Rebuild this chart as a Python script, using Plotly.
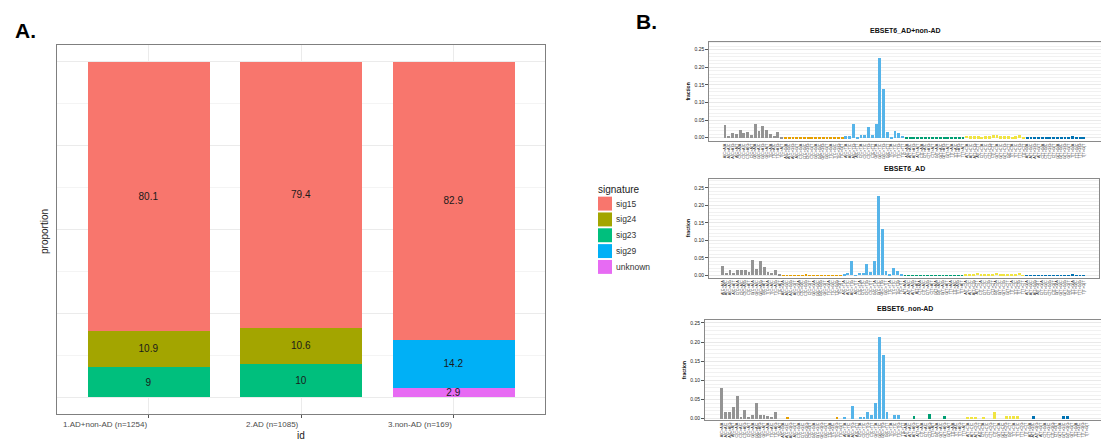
import plotly.graph_objects as go

# page body has an 8px margin; the figure fills the rest of the 1109x446 window
OFF = 8
W, H = 1109 - OFF, 446 - OFF

# ---------------- Panel A data ----------------
ids = ["1.AD+non-AD (n=1254)", "2.AD (n=1085)", "3.non-AD (n=169)"]
sig15 = [80.1, 79.4, 82.9]
sig24 = [10.9, 10.6, None]
sig23 = [9, 10, None]
sig29 = [None, None, 14.2]
unknown = [None, None, 2.9]
sig_names = ["sig15", "sig24", "sig23", "sig29", "unknown"]
sig_colors = ["#F8766D", "#A3A500", "#00BF7D", "#00B0F6", "#E76BF3"]

# ---------------- Panel B data ----------------
bases = ["A", "C", "G", "T"]
mut_types = ["C>A", "C>G", "C>T", "T>A", "T>C", "T>G"]
type_colors = ["#949494", "#E69F00", "#56B4E9", "#009E73", "#F0E442", "#0072B2"]
contexts = [f"{a}[{m}]{b}" for m in mut_types for a in bases for b in bases]

ad_nonad = [
    0.035, 0.006, 0.014, 0.010, 0.021, 0.012, 0.016, 0.008, 0.038, 0.020, 0.034, 0.022, 0.010, 0.006, 0.015, 0.002,
    0.001, 0.001, 0.002, 0.001, 0.001, 0.002, 0.003, 0.001, 0.001, 0.002, 0.001, 0.001, 0.002, 0.001, 0.001, 0.002,
    0.004, 0.005, 0.038, 0.002, 0.007, 0.007, 0.030, 0.008, 0.040, 0.227, 0.138, 0.015, 0.003, 0.018, 0.012, 0.006,
    0.001, 0.002, 0.003, 0.001, 0.001, 0.002, 0.003, 0.001, 0.001, 0.002, 0.001, 0.001, 0.002, 0.001, 0.002, 0.001,
    0.006, 0.005, 0.004, 0.004, 0.003, 0.004, 0.005, 0.007, 0.008, 0.005, 0.004, 0.004, 0.003, 0.005, 0.008, 0.003,
    0.002, 0.001, 0.001, 0.001, 0.001, 0.001, 0.001, 0.001, 0.001, 0.002, 0.002, 0.002, 0.004, 0.001, 0.001, 0.002,
]
ad_only = [
    0.028, 0.007, 0.015, 0.008, 0.016, 0.015, 0.015, 0.010, 0.043, 0.019, 0.041, 0.025, 0.010, 0.007, 0.016, 0.003,
    0.001, 0.001, 0.001, 0.002, 0.001, 0.001, 0.003, 0.001, 0.001, 0.001, 0.002, 0.001, 0.001, 0.001, 0.002, 0.001,
    0.005, 0.006, 0.040, 0.002, 0.008, 0.008, 0.033, 0.009, 0.041, 0.228, 0.134, 0.014, 0.003, 0.020, 0.013, 0.005,
    0.001, 0.002, 0.001, 0.001, 0.002, 0.001, 0.001, 0.002, 0.001, 0.001, 0.002, 0.001, 0.001, 0.002, 0.001, 0.001,
    0.003, 0.005, 0.004, 0.006, 0.004, 0.003, 0.004, 0.005, 0.006, 0.004, 0.003, 0.004, 0.003, 0.004, 0.006, 0.002,
    0.001, 0.001, 0.002, 0.001, 0.001, 0.001, 0.001, 0.001, 0.001, 0.002, 0.002, 0.001, 0.004, 0.001, 0.002, 0.001,
]
non_ad = [
    0.081, 0.016, 0.016, 0.029, 0.059, 0.004, 0.023, 0.004, 0.010, 0.041, 0.010, 0.010, 0.006, 0.003, 0.016, 0.0,
    0.0, 0.005, 0.0, 0.0, 0.0, 0.0, 0.0, 0.0, 0.0, 0.0, 0.0, 0.0, 0.0, 0.0, 0.005, 0.0,
    0.005, 0.0, 0.034, 0.0, 0.005, 0.005, 0.016, 0.010, 0.040, 0.213, 0.165, 0.016, 0.0, 0.010, 0.010, 0.0,
    0.0, 0.0, 0.006, 0.0, 0.0, 0.0, 0.011, 0.0, 0.0, 0.0, 0.006, 0.0, 0.0, 0.0, 0.0, 0.0,
    0.005, 0.005, 0.005, 0.0, 0.005, 0.0, 0.0, 0.018, 0.0, 0.0, 0.006, 0.006, 0.006, 0.006, 0.0, 0.0,
    0.0, 0.006, 0.0, 0.0, 0.0, 0.0, 0.0, 0.0, 0.0, 0.006, 0.006, 0.0, 0.0, 0.0, 0.0, 0.0,
]
panel_titles = ["EBSET6_AD+non-AD", "EBSET6_AD", "EBSET6_non-AD"]
panel_values = [ad_nonad, ad_only, non_ad]
yticks_b = [0.00, 0.05, 0.10, 0.15, 0.20, 0.25]


def px_x(v):
    return (v - OFF) / W


def px_y(v):
    return 1 - (v - OFF) / H


fig = go.Figure()

# ---------------- Panel A ----------------
stack = [("unknown", unknown), ("sig29", sig29), ("sig23", sig23), ("sig24", sig24), ("sig15", sig15)]
for name, vals in stack:
    col = sig_colors[sig_names.index(name)]
    fig.add_trace(go.Bar(
        x=ids, y=vals, name=name, marker=dict(color=col, line=dict(width=0)),
        width=0.8, text=[("" if v is None else f"{v:g}") for v in vals],
        textposition="inside", insidetextanchor="middle", constraintext="none",
        textangle=0, textfont=dict(family="Liberation Sans, Arial", size=10, color="#1a1a1a"),
        showlegend=False, xaxis="x", yaxis="y", hoverinfo="skip",
    ))

# ---------------- Panel B ----------------
bar_colors = [type_colors[i // 16] for i in range(96)]
xr = [[-4.15, 99.45], [-3.5, 99.0], [-4.35, 99.7]]
yr = [[-0.0096, 0.273], [-0.0065, 0.276], [-0.004, 0.257]]
xdom = [[709.3, 1100.7], [709, 1099], [705, 1105]]
ydom = [[40.7, 140.7], [178.5, 278], [320.7, 421]]
for k, vals in enumerate(panel_values):
    n = k + 2
    fig.add_trace(go.Bar(
        x=list(range(96)), y=vals, width=0.75,
        marker=dict(color=bar_colors, line=dict(width=0)),
        showlegend=False, xaxis=f"x{n}", yaxis=f"y{n}", hoverinfo="skip",
    ))

axis_frame = dict(showline=True, mirror=True, linewidth=1, zeroline=False)

layout = dict(
    width=W, height=H, margin=dict(l=0, r=0, t=0, b=0),
    paper_bgcolor="white", plot_bgcolor="white", barmode="stack",
    font=dict(family="Liberation Sans, Arial", color="#333"),
    xaxis=dict(domain=[px_x(57), px_x(545)], anchor="y", type="category",
               range=[-0.6, 2.6], showticklabels=False, ticks="outside", ticklen=3,
               tickcolor="#555", showgrid=True, gridcolor="#ebebeb",
               linecolor="#7f7f7f", **axis_frame),
    yaxis=dict(domain=[px_y(415), px_y(44)], anchor="x", range=[-5, 105],
               tickvals=[0, 25, 50, 75, 100], showticklabels=False,
               showgrid=True, gridcolor="#ebebeb",
               minor=dict(tickvals=[12.5, 37.5, 62.5, 87.5], showgrid=True, gridcolor="#f4f4f4"),
               linecolor="#7f7f7f", **axis_frame),
)
for k in range(3):
    n = k + 2
    layout[f"xaxis{n}"] = dict(
        domain=[px_x(xdom[k][0]), px_x(xdom[k][1])], anchor=f"y{n}", range=xr[k],
        tickvals=list(range(96)), ticktext=contexts, tickangle=-90,
        tickfont=dict(size=3.8, color="#1a1a1a"), ticks="", showgrid=False,
        linecolor="#8a8a8a", **axis_frame)
    layout[f"yaxis{n}"] = dict(
        domain=[px_y(ydom[k][1]), px_y(ydom[k][0])], anchor=f"x{n}", range=yr[k],
        tickvals=yticks_b, ticktext=[f"{t:.2f}" for t in yticks_b],
        tickfont=dict(size=5, color="#222"), ticks="outside", ticklen=3, tickcolor="#555",
        showgrid=True, gridcolor="#e9e9e9",
        minor=dict(dtick=0.01, tick0=0, showgrid=True, gridcolor="#f1f1f1"),
        linecolor="#8a8a8a", **axis_frame)
fig.update_layout(**layout)

ann = []


def note(text, x, y, size, color="#222", xanchor="center", textangle=0, xref="paper"):
    ann.append(dict(text=text, x=x if xref != "paper" else px_x(x), y=px_y(y), xref=xref, yref="paper",
                    xanchor=xanchor, yanchor="middle", textangle=textangle, showarrow=False,
                    font=dict(size=size, color=color)))


# panel labels
note("<b>A.</b>", 13, 30, 21, "black", xanchor="left")
note("<b>B.</b>", 634, 21, 21, "black", xanchor="left")
# Panel A tick labels (right-aligned at the tick)
for c in ids:
    note(c, c, 425, 8, "#4d4d4d", xanchor="right", xref="x")
note("id", 301, 436, 10)
note("proportion", 45, 231, 10, textangle=-90)
# Panel A legend
note("signature", 596, 189, 10, xanchor="left")
shapes = []
for i, (nm, col) in enumerate(zip(sig_names, sig_colors)):
    cy = 203.5 + i * 15.9
    shapes.append(dict(type="rect", xref="paper", yref="paper",
                       x0=px_x(598), x1=px_x(612), y0=px_y(cy + 7), y1=px_y(cy - 7),
                       fillcolor=col, line=dict(width=0)))
    note(nm, 614, cy, 8.5, "#333", xanchor="left")
# Panel B titles and y titles
title_y = [30, 168, 309]
for k in range(3):
    cx = (xdom[k][0] + xdom[k][1]) / 2
    note(f"<b>{panel_titles[k]}</b>", cx, title_y[k], 7, "#111")
    note("<b>fraction</b>", xdom[k][0] - 21, (ydom[k][0] + ydom[k][1]) / 2, 5, "#111", textangle=-90)
fig.update_layout(annotations=ann, shapes=shapes)

fig.write_html("out.html")
